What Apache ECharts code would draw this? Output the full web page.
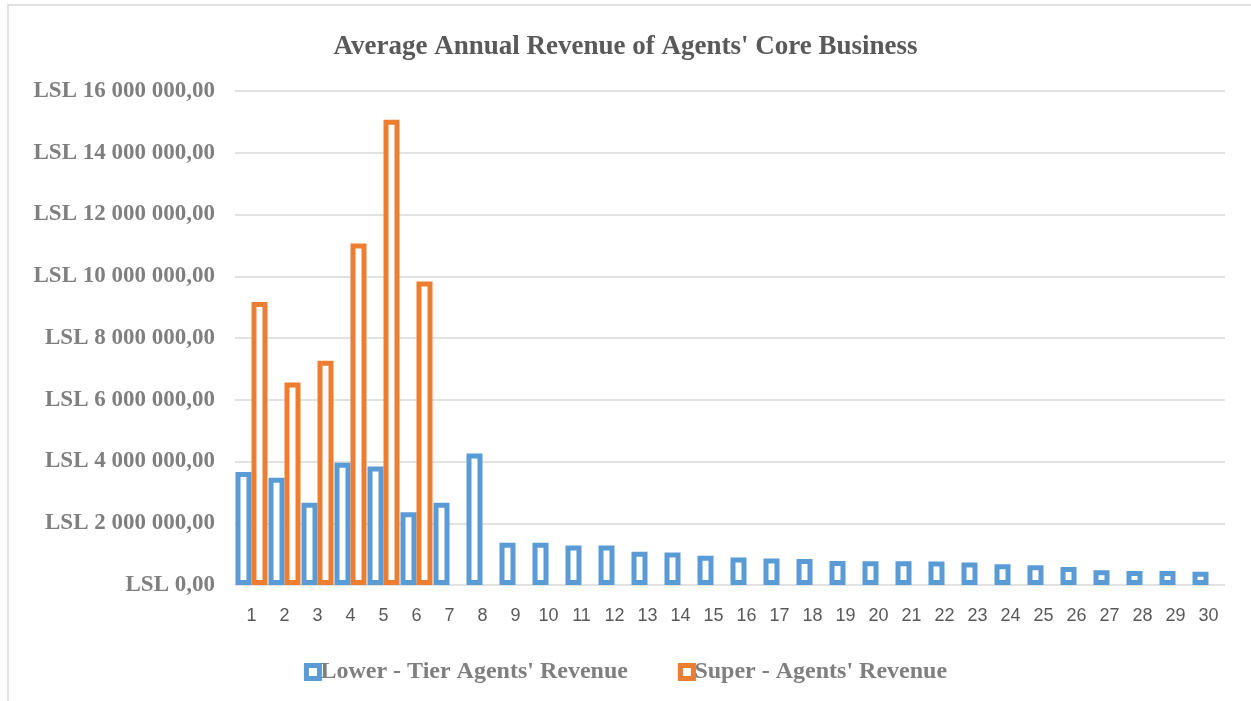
<!DOCTYPE html>
<html><head><meta charset="utf-8">
<script src="https://cdn.jsdelivr.net/npm/echarts@6/dist/echarts.min.js"></script>
<style>html,body{margin:0;padding:0;background:#fff}#c{width:1251px;height:701px}</style>
</head><body><div id="c"></div>
<script>
const categories = Array.from({length:30},(_, i)=>String(i+1));
const lowerTier = [3660000,3470000,2660000,3960000,3840000,2360000,2660000,4260000,1370000,1370000,1280000,1280000,1080000,1050000,950000,890000,860000,840000,780000,770000,770000,760000,730000,670000,640000,580000,480000,450000,450000,430000];
const superAgents = [9170000,6560000,7260000,11060000,15070000,9830000];
const seriesNames = ["Lower - Tier Agents' Revenue","Super - Agents' Revenue"];

function fmt(v){
  const s = String(Math.round(v)).replace(/\B(?=(\d{3})+(?!\d))/g,' ');
  return 'LSL ' + s + ',00';
}
const chart = echarts.init(document.getElementById('c'));
chart.setOption({
  animation:false,
  title:{text:'Average Annual Revenue of Agents\' Core Business',left:'center',top:29,
    textStyle:{fontFamily:'Liberation Serif',fontWeight:'bold',fontSize:27,color:'#595959'}},
  legend:{top:655,left:'center',itemGap:50,itemWidth:13,itemHeight:13,icon:'rect',
    data:seriesNames,
    itemStyle:{borderWidth:5},
    textStyle:{fontFamily:'Liberation Serif',fontWeight:'bold',fontSize:24,color:'#7f7f7f',padding:[0,0,0,-4]}},
  grid:{left:235,right:26,top:91,bottom:116},
  xAxis:{type:'category',data:categories,
    axisLine:{show:false},axisTick:{show:false},
    axisLabel:{fontFamily:'Liberation Sans',fontSize:18,color:'#595959',margin:22}},
  yAxis:{type:'value',min:0,max:16000000,interval:2000000,
    axisLabel:{formatter:fmt,fontFamily:'Liberation Serif',fontWeight:'bold',fontSize:23,color:'#7f7f7f',margin:20},
    splitLine:{lineStyle:{color:'#d9d9d9',width:1.5}}},
  series:[
    {name:seriesNames[0],type:'bar',data:lowerTier,barWidth:16,barGap:'0%',
      itemStyle:{color:'#ffffff',borderColor:'#5b9bd5',borderWidth:5}},
    {name:seriesNames[1],type:'bar',data:superAgents,barWidth:16,
      itemStyle:{color:'#ffffff',borderColor:'#ed7d31',borderWidth:5}}
  ],
  graphic:[{type:'rect',shape:{x:8,y:5,width:1260,height:720},style:{fill:'none',stroke:'#d9d9d9',lineWidth:1.5},silent:true}]
});
</script></body></html>
